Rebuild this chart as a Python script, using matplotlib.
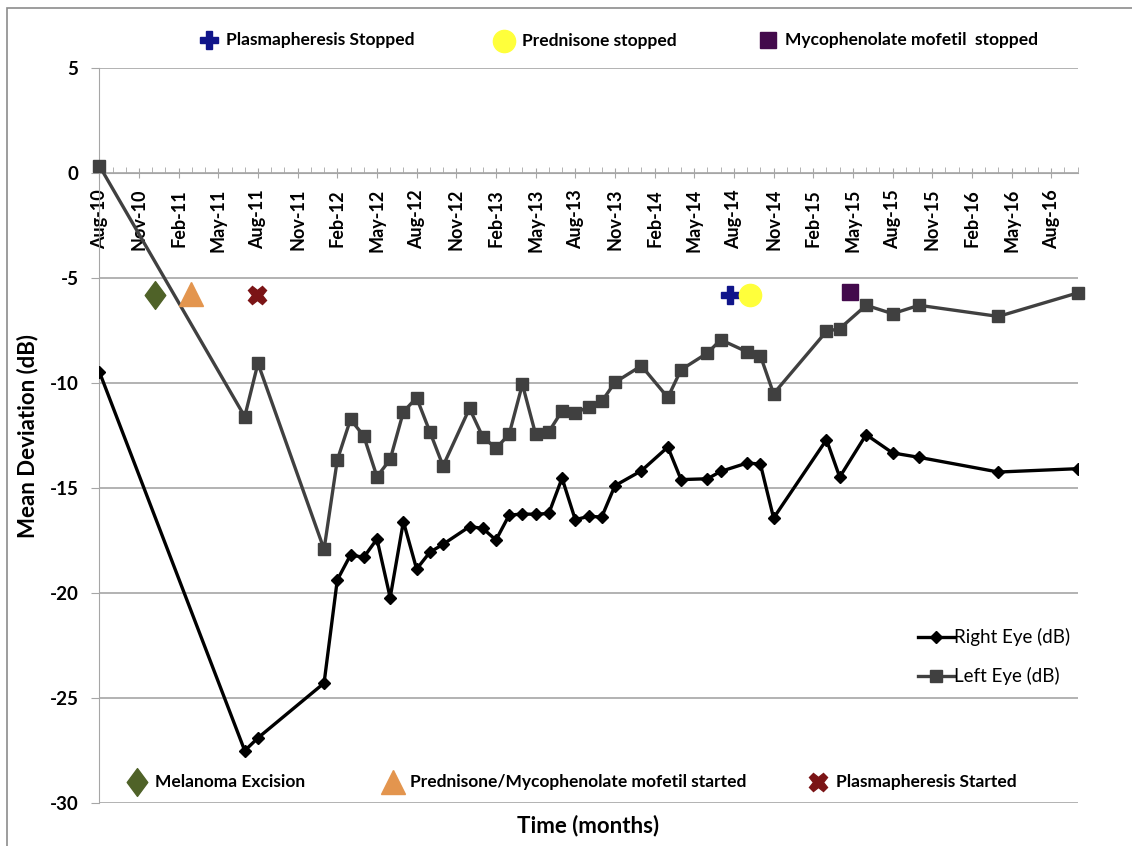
import matplotlib
matplotlib.use("Agg")
import matplotlib.pyplot as plt
from matplotlib.path import Path
from matplotlib.patches import Rectangle
from matplotlib.ticker import MultipleLocator, FixedLocator

# ---------------- data ----------------
# months since Aug-2010
months = [0, 11, 12, 17, 18, 19, 20, 21, 22, 23, 24, 25, 26, 28, 29, 30, 31, 32,
          33, 34, 35, 36, 37, 38, 39, 41, 43, 44, 46, 47, 49, 50, 51, 55, 56, 58,
          60, 62, 68, 74]
right_eye = [-9.46, -27.51, -26.90, -24.29, -19.38, -18.19, -18.30, -17.43, -20.22,
             -16.60, -18.86, -18.06, -17.68, -16.84, -16.92, -17.48, -16.29, -16.24,
             -16.25, -16.21, -14.53, -16.51, -16.35, -16.38, -14.89, -14.18, -13.05,
             -14.60, -14.56, -14.21, -13.81, -13.86, -16.43, -12.70, -14.48, -12.46,
             -13.33, -13.54, -14.24, -14.08]
left_eye = [0.35, -11.60, -9.06, -17.92, -13.67, -11.73, -12.52, -14.46, -13.64,
            -11.37, -10.70, -12.32, -13.95, -11.21, -12.56, -13.11, -12.44, -10.06,
            -12.44, -12.32, -11.33, -11.43, -11.14, -10.88, -9.97, -9.18, -10.69,
            -9.37, -8.57, -7.94, -8.52, -8.70, -10.51, -7.54, -7.41, -6.30,
            -6.70, -6.30, -6.83, -5.71]
tick_labels = ["Aug-10", "Nov-10", "Feb-11", "May-11", "Aug-11", "Nov-11", "Feb-12",
               "May-12", "Aug-12", "Nov-12", "Feb-13", "May-13", "Aug-13", "Nov-13",
               "Feb-14", "May-14", "Aug-14", "Nov-14", "Feb-15", "May-15", "Aug-15",
               "Nov-15", "Feb-16", "May-16", "Aug-16"]

# events (month position, level)
event_names = ["Melanoma Excision", "Prednisone/Mycophenolate mofetil started",
               "Plasmapheresis Started", "Plasmapheresis Stopped",
               "Prednisone stopped", "Mycophenolate mofetil  stopped"]
event_months = [4.2, 6.9, 11.9, 47.7, 49.2, 56.8]
event_levels = [-5.8, -5.75, -5.8, -5.83, -5.8, -5.69]

# ---------------- style ----------------
plt.rcParams['font.family'] = ['Lato', 'DejaVu Sans']
plt.rcParams['axes.unicode_minus'] = False
GRID = '#a6a6a6'
diamond = Path([(0, 1), (0.74, 0), (0, -1), (-0.74, 0), (0, 1)],
               [Path.MOVETO, Path.LINETO, Path.LINETO, Path.LINETO, Path.CLOSEPOLY])
ev_style = [
    dict(marker=diamond, color='#4F6228', ms=20),
    dict(marker='^', color='#E3954E', ms=17),
    dict(marker='X', color='#7B1416', ms=13),
    dict(marker='P', color='#10158A', ms=13),
    dict(marker='o', color='#FFFF3B', ms=16),
    dict(marker='s', color='#430A4C', ms=11.5),
]

fig = plt.figure(figsize=(11.32, 8.46), dpi=100)
fig.patches.append(Rectangle((7 / 1132, -0.1), 1.2, 1 - 8 / 846 + 0.1,
                             transform=fig.transFigure, fill=False,
                             edgecolor='#8c8c8c', lw=1.2))
ax = fig.add_axes([99.3 / 1132, 1 - 803 / 846, (1077.7 - 99.3) / 1132, (803 - 68) / 846])

ax.set_xlim(0, 74)
ax.set_ylim(-30, 5)
for s in ['top', 'right']:
    ax.spines[s].set_visible(False)
ax.spines['left'].set_color(GRID)
ax.spines['bottom'].set_color(GRID)
ax.spines['bottom'].set_position(('data', 0))
ax.yaxis.grid(True, color=GRID, lw=1.2)
ax.set_axisbelow(True)

ax.xaxis.set_major_locator(FixedLocator(list(range(0, 73, 3))))
ax.xaxis.set_minor_locator(MultipleLocator(1))
ax.set_xticklabels(tick_labels, rotation=90, fontsize=13, fontweight='bold',
                   va='top', ha='center', rotation_mode='default')
ax.tick_params(axis='x', which='major', direction='inout', length=7, color=GRID, pad=8)
ax.tick_params(axis='x', which='minor', direction='in', length=4, color=GRID)
ax.yaxis.set_major_locator(MultipleLocator(5))
ax.tick_params(axis='y', direction='out', length=6, color=GRID, pad=9,
               labelsize=13.5)
for t in ax.get_yticklabels():
    t.set_fontweight('bold')

ax.plot(months, right_eye, color='black', lw=2.4, marker='D', ms=6.5,
        label='Right Eye (dB)', zorder=3)
ax.plot(months, left_eye, color='#404040', lw=2.4, marker='s', ms=9,
        label='Left Eye (dB)', zorder=3, clip_on=False)

for m, v, st in zip(event_months, event_levels, ev_style):
    ax.plot([m], [v], linestyle='none', marker=st['marker'], color=st['color'],
            ms=st['ms'], zorder=4, clip_on=False)

# event key (top row and bottom row)
key_pos = [(0.039, 0.0289), (0.300, 0.0289), (0.735, 0.0289),
           (0.112, 1.0380), (0.414, 1.0370), (0.683, 1.0380)]
for (kx, ky), st, name in zip(key_pos, ev_style, event_names):
    ax.plot([kx], [ky], transform=ax.transAxes, linestyle='none',
            marker=st['marker'], color=st['color'], ms=st['ms'], clip_on=False)
    ax.text(kx + 0.018, ky, name, transform=ax.transAxes, fontsize=12.5,
            fontweight='bold', va='center', ha='left')

leg = ax.legend(loc='lower right', bbox_to_anchor=(1.0, 0.150), frameon=False,
                fontsize=13.5, handlelength=1.9, handletextpad=0.0,
                labelspacing=1.12, borderaxespad=0)

ax.set_ylabel('Mean Deviation (dB)', fontsize=16, fontweight='bold')
ax.yaxis.set_label_coords(-0.062, 0.5)
ax.text(0.5, -0.016, 'Time (months)', transform=ax.transAxes, fontsize=16,
        fontweight='bold', ha='center', va='top')

fig.savefig('out.png', dpi=100)
